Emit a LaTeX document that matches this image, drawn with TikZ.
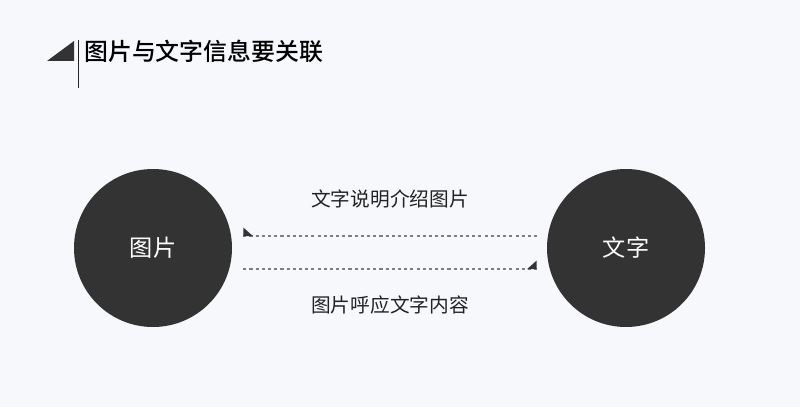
\documentclass[tikz,border=0pt]{standalone}
\usepackage{fontspec}
\newfontfamily\cjk{Noto Sans CJK SC}
\newfontfamily\cjkmed{Noto Sans CJK SC Medium}
\definecolor{BgGray}{HTML}{F7F8FC}
\definecolor{DarkDisc}{HTML}{333333}
\definecolor{InkDark}{HTML}{222222}
\definecolor{DashGray}{HTML}{7F7F7F}
\usetikzlibrary{positioning, calc}

\begin{document}
\begin{tikzpicture}[x=0.025cm, y=-0.025cm,
        disc/.style={circle, fill=DarkDisc, minimum size=158*0.025cm, inner sep=0pt,
                     text=white, font=\cjk\fontsize{16.5pt}{18pt}\selectfont},
        caption/.style={text=InkDark, inner sep=0pt, font=\cjk\fontsize{14pt}{16pt}\selectfont},
        link/.style={DashGray, line width=0.9pt, dash pattern=on 2.2pt off 2.2pt},
        tip/.style={fill=DarkDisc}
      ]
        \fill[BgGray] (0,0) rectangle (800,407);
        \useasboundingbox (0,0) rectangle (800,407);

        % heading
        \fill[DarkDisc] (47,61) -- (74,61) -- (74,41) -- cycle;
        \draw[InkDark, line width=0.6pt] (78.3,40.5) -- (78.3,88);
        \node[anchor=west, inner sep=0pt, text=black, font=\cjkmed\fontsize{17pt}{19pt}\selectfont]
          (title) at (84,51.5) {图片与文字信息要关联};

        % the two discs
        \node[disc] (pic) at (153,248) {图片};
        \node[disc] (txt) at (626,248) {文字};

        % connectors
        \coordinate (up1) at ($(pic.east)+(11,-12)$);
        \coordinate (up2) at ($(txt.west)+(-10,-12)$);
        \coordinate (lo1) at ($(pic.east)+(11,21)$);
        \coordinate (lo2) at ($(txt.west)+(-10,21)$);
        \draw[link] (up1) -- (up2);
        \draw[link] (lo1) -- (lo2);
        \fill[tip] (up1) -- ++(0,-8.5) -- ++(9.5,8.5) -- cycle;
        \fill[tip] (lo2) -- ++(0,-8.5) -- ++(-9.5,8.5) -- cycle;

        \node[caption] (say) at ($(up1)!0.5!(up2)+(0,-37)$) {文字说明介绍图片};
        \node[caption] (echo) at ($(lo1)!0.5!(lo2)+(0,36)$) {图片呼应文字内容};
      \end{tikzpicture}
\end{document}
